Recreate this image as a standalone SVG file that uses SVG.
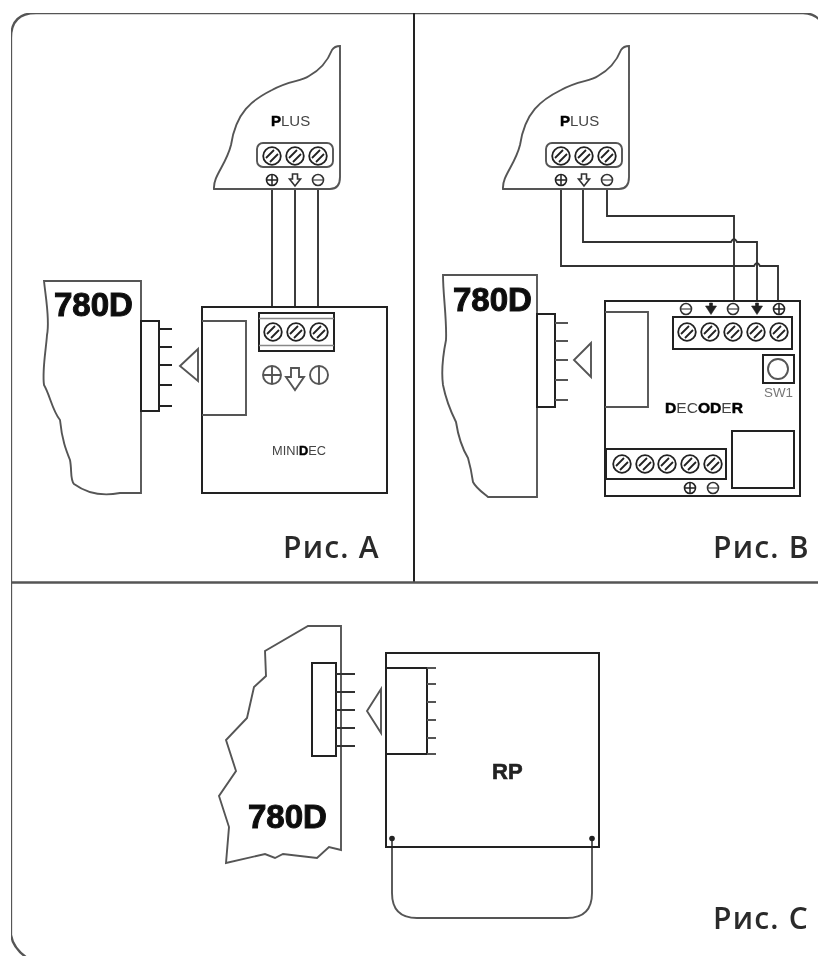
<svg xmlns="http://www.w3.org/2000/svg" xmlns:xlink="http://www.w3.org/1999/xlink" width="818" height="956" viewBox="0 0 818 956">
<style>
.l{fill:none;stroke:#222;stroke-width:2}
.g{fill:none;stroke:#555;stroke-width:1.9}
.w{fill:none;stroke:#333;stroke-width:1.9}
.f{fill:none;stroke:#555;stroke-width:2.3}
.big{font-family:"Liberation Sans",Arial,sans-serif;font-weight:700;font-size:33px;fill:#111;stroke:#111;stroke-width:1}
.sm{font-family:"Liberation Sans",Arial,sans-serif;fill:#444}
.b{font-weight:700;fill:#000;stroke:#000;stroke-width:.5}
.cap{font-family:"Open Sans","Noto Sans",sans-serif;font-weight:600;font-size:30px;fill:#2c2c2c;letter-spacing:1.2px}
</style>
<defs>
<filter id="soft" x="0" y="0" width="100%" height="100%"><feGaussianBlur stdDeviation="0.45"/></filter>
<g id="screw"><circle r="8.800" fill="#fff" stroke="#222" stroke-width="1.800"/><path d="M-6-2 2 6M-2-6 6 2" transform="rotate(90)" fill="none" stroke="#222" stroke-width="1.800"/></g>
<g id="plus"><circle r="5.500" fill="#fff" stroke="#222" stroke-width="1.600"/><path d="M-5 0H5M0-5V5" stroke="#222" stroke-width="1.500"/></g>
<g id="minus"><circle r="5.500" fill="#fff" stroke="#333" stroke-width="1.600"/><path d="M-5 0H5" stroke="#444" stroke-width="1.200"/></g>
<g id="down"><path d="M-2.500-6H2.500V-1H5.500L0 6-5.500-1H-2.500Z" fill="#fff" stroke="#333" stroke-width="1.600"/></g>
<g id="solid"><path d="M-1.500-6H1.500V-3H5.500L0 5.500-5.500-3H-1.500Z" fill="#222" stroke="#222" stroke-width=".6"/></g>
<g id="pluscard">
<path class="g" d="M214 189C213 176 226 165 231 145C236 112 252 100 272 90C290 80 300 82 309 76C320 70 328 60 332 50C334 47 336 46 340 46V177Q340 189 330 189Z"/>
<rect class="g" x="257" y="143" width="76" height="24" rx="6"/>
<use xlink:href="#screw" x="272" y="156"/><use xlink:href="#screw" x="295" y="156"/><use xlink:href="#screw" x="318" y="156"/>
<use xlink:href="#plus" x="272" y="180"/><use xlink:href="#down" x="295" y="180"/><use xlink:href="#minus" x="318" y="180"/>
<text class="sm" x="271" y="126" style="font-size:15px"><tspan class="b">P</tspan>LUS</text>
</g>
</defs>
<g filter="url(#soft)">
<g id="frame">
<path class="f" d="M27 958Q13 948 11 935V38Q11 13 36 13H803Q813 13 820 20"/>
<path d="M414 13V582" class="l"/>
<path d="M11 582.500H818" class="f"/>
</g>
<g id="connectors">
<path class="w" d="M272 189V306M295 189V306M318 189V306"/>
<path class="w" d="M561 189V266H754Q757 260 760 266H778V301"/>
<path class="w" d="M583 189V242H731Q734 236 737 242H757V301"/>
<path class="w" d="M607 189V216H734V301"/>
<path class="g" d="M392 840V893Q392 918 417 918H567Q592 918 592 893V840"/>
</g>
<g id="plus-a"><use xlink:href="#pluscard"/></g>
<g id="plus-b"><use xlink:href="#pluscard" x="289"/></g>
<g id="board-a">
<path class="g" d="M44 281H141V493H120C100 497 85 492 74 484C70 480 72 470 70 460C66 450 62 440 60 420C52 410 50 395 44 385C42 370 46 350 47 335C50 320 46 300 44 281Z"/>
<text class="big" x="54" y="316">780D</text>
<rect class="l" x="141" y="321" width="18" height="90" fill="#fff"/>
<path class="l" d="M159 329H172M159 347H172M159 365H172M159 385H172M159 406H172"/>
<path class="g" d="M198 349 180 366 198 381Z"/>
</g>
<g id="minidec">
<rect class="l" x="202" y="307" width="185" height="186"/>
<path class="g" d="M202 321H246V415H202"/>
<rect class="l" x="259" y="313" width="75" height="38"/>
<path d="M259 318.500H334M259 345.500H334" stroke="#888" stroke-width="1.300"/>
<use xlink:href="#screw" x="273" y="332"/><use xlink:href="#screw" x="296" y="332"/><use xlink:href="#screw" x="319" y="332"/>
<g class="g"><circle cx="272" cy="375" r="9"/><path d="M263 375H281M272 366V384"/>
<path d="M291 377H286L295 390 304 377H299V368H291Z" fill="#fff"/>
<circle cx="319" cy="375" r="9"/><path d="M319 366V384"/></g>
<text class="sm" x="272" y="455" style="font-size:13px" textLength="54" lengthAdjust="spacingAndGlyphs">MINI<tspan class="b">D</tspan>EC</text>
</g>
<text class="cap" x="283" y="558">Рис. A</text>
<g id="board-b">
<path class="g" d="M443 275H537V497H488C482 492 476 488 473 482C472 475 470 465 468 458C462 448 458 435 456 422C450 410 446 400 443 385C441 370 444 350 446 340C447 320 443 295 443 275Z"/>
<text class="big" x="453" y="311">780D</text>
<rect class="l" x="537" y="314" width="18" height="93" fill="#fff"/>
<path class="g" d="M555 323H568M555 341H568M555 360H568M555 380H568M555 400H568"/>
<path class="g" d="M591 343 574 360 591 377Z"/>
</g>
<g id="decoder">
<rect class="l" x="605" y="301" width="195" height="195"/>
<path class="g" d="M605 312H648V407H605"/>
<rect class="l" x="673" y="317" width="119" height="32"/>
<use xlink:href="#screw" x="687" y="332"/><use xlink:href="#screw" x="710" y="332"/><use xlink:href="#screw" x="733" y="332"/><use xlink:href="#screw" x="756" y="332"/><use xlink:href="#screw" x="779" y="332"/>
<use xlink:href="#minus" x="686" y="309"/><use xlink:href="#solid" x="711" y="309"/><use xlink:href="#minus" x="733" y="309"/><use xlink:href="#solid" x="757" y="309"/><use xlink:href="#plus" x="779" y="309"/>
<rect class="l" x="763" y="355" width="31" height="28"/>
<circle class="g" cx="778" cy="369" r="10"/>
<text class="sm" x="764" y="397" style="font-size:12px;fill:#777" textLength="29" lengthAdjust="spacingAndGlyphs">SW1</text>
<text class="sm" x="665" y="413" style="font-size:15px" textLength="78" lengthAdjust="spacingAndGlyphs"><tspan class="b">D</tspan>EC<tspan class="b">OD</tspan>E<tspan class="b">R</tspan></text>
<rect class="l" x="732" y="431" width="62" height="57"/>
<rect class="l" x="606" y="449" width="120" height="30"/>
<use xlink:href="#screw" x="622" y="464"/><use xlink:href="#screw" x="645" y="464"/><use xlink:href="#screw" x="667" y="464"/><use xlink:href="#screw" x="690" y="464"/><use xlink:href="#screw" x="713" y="464"/>
<use xlink:href="#plus" x="690" y="488"/><use xlink:href="#minus" x="713" y="488"/>
</g>
<text class="cap" x="713" y="558">Рис. B</text>
<g id="board-c">
<path class="g" d="M341 626H308L265 651 266 676 254 687 247 718 226 740 236 771 219 796 229 827 226 863 265 854 275 858 283 854 317 858 329 847 341 850Z"/>
<text class="big" x="248" y="828">780D</text>
<rect class="l" x="312" y="663" width="24" height="93" fill="#fff"/>
<path class="w" d="M336 674H355M336 692H355M336 710H355M336 728H355M336 746H355"/>
<path class="g" d="M381 689 367 711 381 733Z"/>
</g>
<g id="rp">
<rect class="l" x="386" y="653" width="213" height="194"/>
<path class="l" d="M386 668H427V754H386"/>
<path class="g" d="M427 668H436M427 684H436M427 702H436M427 720H436M427 738H436M427 754H436"/>
<text x="492" y="779" font-family="Liberation Sans,Arial,sans-serif" font-weight="700" font-size="22" fill="#222" stroke="#222" stroke-width=".6">RP</text>
<circle cx="392" cy="838.500" r="2.800" fill="#222"/><circle cx="592" cy="838.500" r="2.800" fill="#222"/>
</g>
<text class="cap" x="713" y="929">Рис. C</text>
</g>
</svg>
